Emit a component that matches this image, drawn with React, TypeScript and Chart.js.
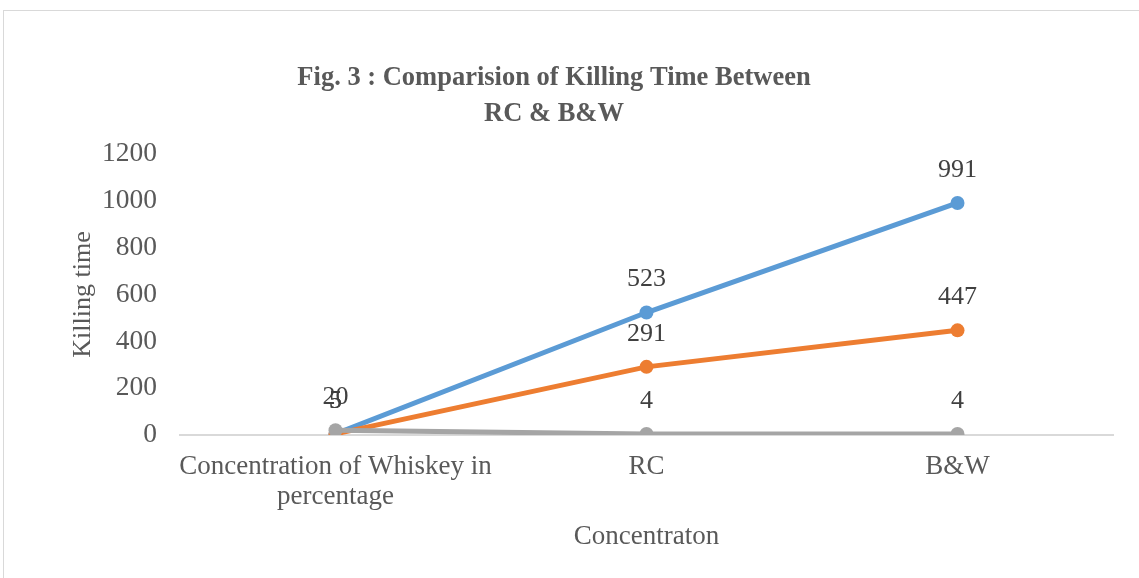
import React, { useEffect, useRef } from "react";
import { Chart, registerables } from "chart.js";

Chart.register(...registerables);

const categories: (string | string[])[] = [["Concentration of Whiskey in", "percentage"], "RC", "B&W"];
const seriesA = [5, 523, 991];
const seriesB = [5, 291, 447];
const seriesC = [20, 4, 4];
const yTicks = [0, 200, 400, 600, 800, 1000, 1200];
const titleLines = ["Fig. 3 : Comparision of Killing Time Between", "RC & B&W"];

const FONT = "'Liberation Serif', 'Times New Roman', serif";
const TEXT = "#595959";

const framePlugin = {
  id: "frame",
  beforeDraw(chart: any) {
    const { ctx } = chart;
    ctx.save();
    ctx.fillStyle = "#ffffff";
    ctx.fillRect(0, 0, chart.width, chart.height);
    ctx.strokeStyle = "#d9d9d9";
    ctx.lineWidth = 1;
    ctx.strokeRect(3.5, 10.5, 1300, 1000);
    ctx.restore();
  },
};

const titlePlugin = {
  id: "customTitle",
  afterDraw(chart: any) {
    const { ctx } = chart;
    ctx.save();
    ctx.fillStyle = TEXT;
    ctx.font = `bold 26.5px ${FONT}`;
    ctx.textAlign = "center";
    ctx.textBaseline = "middle";
    titleLines.forEach((t, i) => ctx.fillText(t, 554, 78 + i * 36));
    ctx.restore();
  },
};

const labelPlugin = {
  id: "pointLabels",
  afterDatasetsDraw(chart: any) {
    const { ctx } = chart;
    ctx.save();
    ctx.fillStyle = "#404040";
    ctx.font = `26px ${FONT}`;
    ctx.textAlign = "center";
    ctx.textBaseline = "middle";
    chart.data.datasets.forEach((ds: any, di: number) => {
      const meta = chart.getDatasetMeta(di);
      meta.data.forEach((pt: any, i: number) => {
        ctx.fillText(String(ds.data[i]), pt.x, pt.y - 33);
      });
    });
    ctx.restore();
  },
};

export default function App() {
  const ref = useRef<HTMLCanvasElement>(null);
  useEffect(() => {
    if (!ref.current) return;
    const mk = (label: string, data: number[], color: string, order: number) => ({
      label,
      data,
      borderColor: color,
      backgroundColor: color,
      borderWidth: 5,
      pointRadius: 7,
      pointHoverRadius: 7,
      pointBorderWidth: 0,
      tension: 0,
      order,
    });
    const chart = new Chart(ref.current, {
      type: "line",
      data: {
        labels: categories,
        datasets: [
          mk("Series1", seriesA, "#5b9bd5", 3),
          mk("Series2", seriesB, "#ed7d31", 2),
          mk("Series3", seriesC, "#a5a5a5", 1),
        ],
      },
      options: {
        animation: false,
        responsive: false,
        maintainAspectRatio: false,
        layout: { padding: { top: 154, right: 26, bottom: 0, left: 0 } },
        plugins: {
          legend: { display: false },
          title: { display: false },
          tooltip: { enabled: false },
        },
        scales: {
          x: {
            offset: true,
            grid: { display: false, drawTicks: false },
            border: { display: true, color: "#d9d9d9", width: 2 },
            ticks: {
              color: TEXT,
              font: { family: FONT, size: 27, lineHeight: 1.1 },
              padding: 17,
              maxRotation: 0,
              autoSkip: false,
            },
            title: {
              display: true,
              text: "Concentraton",
              color: TEXT,
              font: { family: FONT, size: 27 },
              padding: { top: 0, bottom: 25 },
            },
            afterFit(scale: any) {
              scale.height = 143;
            },
          },
          y: {
            min: 0,
            max: 1200,
            afterBuildTicks(scale: any) {
              scale.ticks = yTicks.map((v) => ({ value: v }));
            },
            grid: { display: false, drawTicks: false },
            border: { display: false },
            ticks: {
              color: TEXT,
              font: { family: FONT, size: 27.5 },
              padding: 23,
              callback: (v: any) => String(v),
            },
            title: {
              display: true,
              text: "Killing time",
              color: TEXT,
              font: { family: FONT, size: 26 },
              padding: { top: 68, bottom: 0 },
            },
            afterFit(scale: any) {
              scale.width = 180;
            },
          },
        },
      },
      plugins: [framePlugin, labelPlugin, titlePlugin],
    });
    return () => chart.destroy();
  }, []);
  return (
    <div style={{ position: "fixed", left: 0, top: 0, width: 1139, height: 578 }}>
      <canvas ref={ref} width={1139} height={578} style={{ width: 1139, height: 578, display: "block" }} />
    </div>
  );
}
